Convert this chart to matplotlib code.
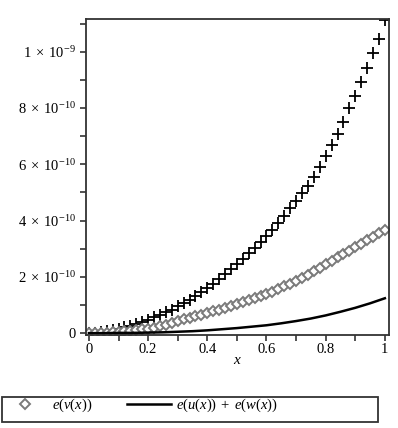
import numpy as np
import matplotlib
matplotlib.use("Agg")
import matplotlib.pyplot as plt
from matplotlib.patches import Rectangle
from matplotlib.ticker import MultipleLocator, FixedLocator

plt.rcParams["font.family"] = ["Liberation Serif", "DejaVu Serif"]
plt.rcParams["mathtext.fontset"] = "custom"
plt.rcParams["mathtext.rm"] = "Liberation Serif"
plt.rcParams["mathtext.it"] = "Liberation Serif:italic"

# x grid of the marker series (step 0.02)
x_pts = np.linspace(0.0, 1.0, 51)

# "+" series, values in units of 1e-9
plus_vals = [
    0.000, 0.001, 0.003, 0.006, 0.011, 0.016, 0.021, 0.027, 0.033, 0.040,
    0.048, 0.056, 0.065, 0.074, 0.084, 0.095, 0.106, 0.118, 0.131, 0.145,
    0.160, 0.176, 0.192, 0.209, 0.227, 0.245, 0.264, 0.284, 0.304, 0.325,
    0.346, 0.367, 0.390, 0.416, 0.443, 0.470, 0.497, 0.524, 0.555, 0.590,
    0.629, 0.668, 0.707, 0.752, 0.800, 0.843, 0.893, 0.943, 0.995, 1.046,
    1.114,
]

# e(v(x)) diamonds, units of 1e-9
v_vals = [
    0.000, 0.000, 0.001, 0.002, 0.003, 0.004, 0.006, 0.008, 0.010, 0.013,
    0.016, 0.020, 0.025, 0.030, 0.036, 0.044, 0.049, 0.054, 0.060, 0.065,
    0.071, 0.077, 0.083, 0.089, 0.096, 0.103, 0.110, 0.117, 0.125, 0.132,
    0.140, 0.148, 0.157, 0.166, 0.176, 0.186, 0.197, 0.208, 0.220, 0.232,
    0.245, 0.257, 0.269, 0.281, 0.293, 0.305, 0.318, 0.330, 0.342, 0.355,
    0.368,
]

# e(u(x)) + e(w(x)) line, units of 1e-9
x_line = [0.00, 0.05, 0.10, 0.15, 0.20, 0.25, 0.30, 0.35, 0.40, 0.45, 0.50,
          0.55, 0.60, 0.65, 0.70, 0.75, 0.80, 0.85, 0.90, 0.95, 1.00]
uw_vals = [0.000, 0.000, 0.001, 0.001, 0.002, 0.003, 0.005, 0.007, 0.010,
           0.014, 0.018, 0.023, 0.028, 0.035, 0.043, 0.052, 0.063, 0.076,
           0.090, 0.106, 0.124]

y_ticks = [0, 2e-10, 4e-10, 6e-10, 8e-10, 1e-9]
y_tick_labels = ["0", r"$2\;\times\;10^{-10}$", r"$4\;\times\;10^{-10}$",
                 r"$6\;\times\;10^{-10}$", r"$8\;\times\;10^{-10}$",
                 r"$1\;\times\;10^{-9}$"]
x_ticks = [0, 0.2, 0.4, 0.6, 0.8, 1.0]
x_tick_labels = ["0", "0.2", "0.4", "0.6", "0.8", "1"]

fig = plt.figure(figsize=(3.98, 4.28), dpi=100)
ax = fig.add_axes([0.216, 0.217, 0.761, 0.739])

scale = 1e-9
ax.plot(x_pts, np.array(plus_vals) * scale, linestyle="none", marker="+",
        markersize=8.5, markeredgewidth=1.3, color="black")
ax.plot(x_pts, np.array(v_vals) * scale, linestyle="none", marker="D",
        markersize=4.8, markerfacecolor="white", markeredgecolor="#7a7a7a",
        markeredgewidth=1.4, label=r"$e(v(x))$")
ax.plot(x_line, np.array(uw_vals) * scale, color="black", linewidth=1.8,
        label=r"$e(u(x))\;+\;e(w(x))$")

ax.set_xlim(-0.010, 1.0135)
ax.set_ylim(-0.007e-9, 1.117e-9)

ax.yaxis.set_major_locator(FixedLocator(y_ticks))
ax.set_yticklabels(y_tick_labels)
ax.yaxis.set_minor_locator(MultipleLocator(1e-10))
ax.xaxis.set_major_locator(FixedLocator(x_ticks))
ax.set_xticklabels(x_tick_labels)
ax.xaxis.set_minor_locator(MultipleLocator(0.1))

ax.tick_params(which="both", direction="out", length=4, width=1.2,
               color="#333333", labelsize=10.5, pad=3)
ax.tick_params(axis="x", pad=1.5)
ax.tick_params(which="both", top=False, right=False)
for sp in ax.spines.values():
    sp.set_color("#333333")
    sp.set_linewidth(1.3)

ax.set_xlabel(r"$x$", fontsize=11, labelpad=-1)

handles, labels = ax.get_legend_handles_labels()
fig.legend(handles, labels, loc="lower left", bbox_to_anchor=(-0.015, 0.012),
           ncol=2, frameon=False, fontsize=10.5, handlelength=3.0,
           handletextpad=0.35, columnspacing=2.4, borderaxespad=0.2)
fig.add_artist(Rectangle((0.005, 0.014), 0.945, 0.058, transform=fig.transFigure,
                         fill=False, edgecolor="#333333", linewidth=1.3))

fig.savefig("out.png", dpi=100)
